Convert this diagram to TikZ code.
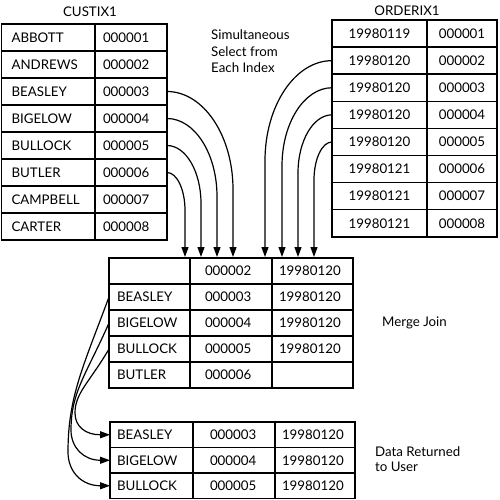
\documentclass[tikz,border=0pt]{standalone}
\usepackage{fontspec}
\setmainfont{Lato}
\usetikzlibrary{arrows.meta}
\newcommand\cellfont{\fontsize{13.3}{15}\selectfont}
\newcommand\cell[8][]{%
  \pgfmathsetmacro\tw{#5-2*#7}%
  \node[cell,#1,minimum height=#6pt,text width=\tw pt,inner xsep=#7pt] (#2) at (#3,#4) {#8};}
\tikzset{
  cell/.style={draw,line width=1.5pt,anchor=north west,align=left,inner ysep=0pt,outer sep=0pt,font=\cellfont},
  arr/.style={line width=1.2pt,-{Triangle[length=10pt,width=7pt]}},
  lbl/.style={font=\cellfont,inner sep=0pt}
}
\begin{document}
\begin{tikzpicture}[x=1pt,y=-1pt]
\useasboundingbox (0,0) rectangle (500,500);
% titles and labels
\node[lbl] (custt) at (90,12) {CUSTIX1};
\node[lbl] (ordt) at (407,11) {ORDERIX1};
\node[lbl,anchor=north west,align=left,font=\fontsize{13.3}{16.5}\selectfont] (sim) at (211,30) {Simultaneous\\Select from\\Each Index};
\node[lbl,anchor=west] (mj) at (382,323) {Merge Join};
\node[lbl,anchor=west,align=left,font=\fontsize{13.3}{14.5}\selectfont] (dr) at (375,459) {Data Returned\\to User};
% CUSTIX1
\cell{c1a}{1.5}{24}{93.5}{27}{10}{ABBOTT}
\cell{c1b}{95}{24}{72}{27}{8}{000001}
\cell{c2a}{1.5}{51}{93.5}{27}{10}{ANDREWS}
\cell{c2b}{95}{51}{72}{27}{8}{000002}
\cell{c3a}{1.5}{78}{93.5}{27}{10}{BEASLEY}
\cell{c3b}{95}{78}{72}{27}{8}{000003}
\cell{c4a}{1.5}{105}{93.5}{27}{10}{BIGELOW}
\cell{c4b}{95}{105}{72}{27}{8}{000004}
\cell{c5a}{1.5}{132}{93.5}{27}{10}{BULLOCK}
\cell{c5b}{95}{132}{72}{27}{8}{000005}
\cell{c6a}{1.5}{159}{93.5}{27}{10}{BUTLER}
\cell{c6b}{95}{159}{72}{27}{8}{000006}
\cell{c7a}{1.5}{186}{93.5}{27}{10}{CAMPBELL}
\cell{c7b}{95}{186}{72}{27}{8}{000007}
\cell{c8a}{1.5}{213}{93.5}{27}{10}{CARTER}
\cell{c8b}{95}{213}{72}{27}{8}{000008}
% ORDERIX1
\cell[align=center]{o1a}{332}{20}{95}{27.1}{4}{19980119}
\cell[align=center]{o1b}{427}{20}{70}{27.1}{4}{000001}
\cell[align=center]{o2a}{332}{47.1}{95}{27.1}{4}{19980120}
\cell[align=center]{o2b}{427}{47.1}{70}{27.1}{4}{000002}
\cell[align=center]{o3a}{332}{74.2}{95}{27.1}{4}{19980120}
\cell[align=center]{o3b}{427}{74.2}{70}{27.1}{4}{000003}
\cell[align=center]{o4a}{332}{101.3}{95}{27.1}{4}{19980120}
\cell[align=center]{o4b}{427}{101.3}{70}{27.1}{4}{000004}
\cell[align=center]{o5a}{332}{128.4}{95}{27.1}{4}{19980120}
\cell[align=center]{o5b}{427}{128.4}{70}{27.1}{4}{000005}
\cell[align=center]{o6a}{332}{155.5}{95}{27.1}{4}{19980121}
\cell[align=center]{o6b}{427}{155.5}{70}{27.1}{4}{000006}
\cell[align=center]{o7a}{332}{182.6}{95}{27.1}{4}{19980121}
\cell[align=center]{o7b}{427}{182.6}{70}{27.1}{4}{000007}
\cell[align=center]{o8a}{332}{209.7}{95}{27.1}{4}{19980121}
\cell[align=center]{o8b}{427}{209.7}{70}{27.1}{4}{000008}
% Merge table
\cell{m1a}{109}{258}{81}{26}{8}{}
\cell{m1b}{190}{258}{82}{26}{15}{000002}
\cell{m1c}{272}{258}{81}{26}{7}{19980120}
\cell{m2a}{109}{284}{81}{26}{8}{BEASLEY}
\cell{m2b}{190}{284}{82}{26}{15}{000003}
\cell{m2c}{272}{284}{81}{26}{7}{19980120}
\cell{m3a}{109}{310}{81}{26}{8}{BIGELOW}
\cell{m3b}{190}{310}{82}{26}{15}{000004}
\cell{m3c}{272}{310}{81}{26}{7}{19980120}
\cell{m4a}{109}{336}{81}{26}{8}{BULLOCK}
\cell{m4b}{190}{336}{82}{26}{15}{000005}
\cell{m4c}{272}{336}{81}{26}{7}{19980120}
\cell{m5a}{109}{362}{81}{26}{8}{BUTLER}
\cell{m5b}{190}{362}{82}{26}{15}{000006}
\cell{m5c}{272}{362}{81}{26}{7}{}
% Returned table
\cell{r1a}{110}{422}{83}{25.5}{7}{BEASLEY}
\cell{r1b}{193}{422}{82}{25.5}{17}{000003}
\cell{r1c}{275}{422}{80}{25.5}{7}{19980120}
\cell{r2a}{110}{447.5}{83}{25.5}{7}{BIGELOW}
\cell{r2b}{193}{447.5}{82}{25.5}{17}{000004}
\cell{r2c}{275}{447.5}{80}{25.5}{7}{19980120}
\cell{r3a}{110}{473}{83}{25.5}{7}{BULLOCK}
\cell{r3b}{193}{473}{82}{25.5}{17}{000005}
\cell{r3c}{275}{473}{80}{25.5}{7}{19980120}
% arrow coordinates
\coordinate (t1) at (233,257); \coordinate (b1) at (233,189.5);
\coordinate (t2) at (217,257); \coordinate (b2) at (217,196.5);
\coordinate (t3) at (201,257); \coordinate (b3) at (201,203.5);
\coordinate (t4) at (185,257); \coordinate (b4) at (185,210.5);
\coordinate (u1) at (265,257); \coordinate (d1) at (265,160.7);
\coordinate (u2) at (282,257); \coordinate (d2) at (282,165.8);
\coordinate (u3) at (298,257); \coordinate (d3) at (298,172.9);
\coordinate (u4) at (314,257); \coordinate (d4) at (314,180);
\coordinate (k1) at (68,452);
\coordinate (k2) at (71,430);
\coordinate (k3) at (75,413);
% CUSTIX1 -> merge
\draw[arr] (c3b.east) .. controls +(36.4,0) and +(0,-54) .. (b1) -- (t1);
\draw[arr] (c4b.east) .. controls +(27.6,0) and +(0,-43) .. (b2) -- (t2);
\draw[arr] (c5b.east) .. controls +(18.8,0) and +(0,-32) .. (b3) -- (t3);
\draw[arr] (c6b.east) .. controls +(9.9,0) and +(0,-21) .. (b4) -- (t4);
% ORDERIX1 -> merge
\draw[arr] (o2a.west) .. controls +(-37,0) and +(0,-55) .. (d1) -- (u1);
\draw[arr] (o3a.west) .. controls +(-27.6,0) and +(0,-43) .. (d2) -- (u2);
\draw[arr] (o4a.west) .. controls +(-18.8,0) and +(0,-32) .. (d3) -- (u3);
\draw[arr] (o5a.west) .. controls +(-9.9,0) and +(0,-21) .. (d4) -- (u4);
% merge -> returned
\draw[arr] (m2a.west) .. controls +(-26,70) and +(0,-55) .. (k1) .. controls +(0,20) and +(-28,0) .. (r3a.west);
\draw[arr] (m3a.west) .. controls +(-23,52) and +(0,-38) .. (k2) .. controls +(0,18) and +(-26,0) .. (r2a.west);
\draw[arr] (m4a.west) .. controls +(-20,34) and +(0,-20) .. (k3) .. controls +(0,14) and +(-24,0) .. (r1a.west);
\end{tikzpicture}
\end{document}
